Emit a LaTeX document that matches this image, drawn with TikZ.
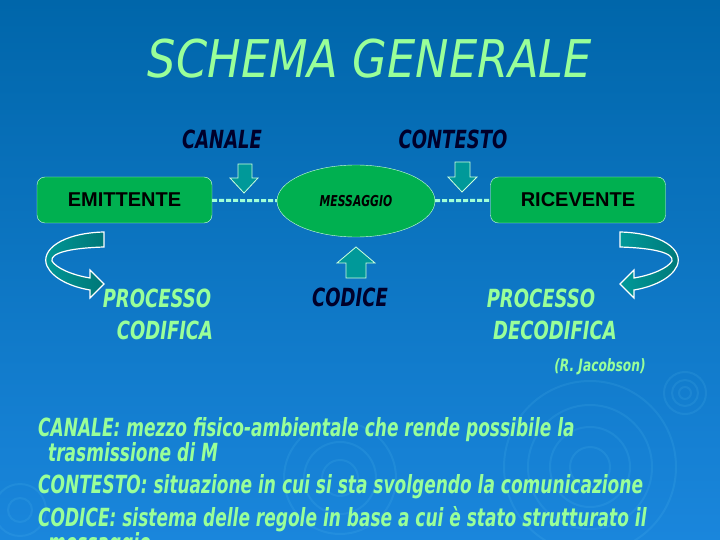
\documentclass[tikz,border=0pt]{standalone}
\usepackage{fontspec}
\usepackage{tikz}
\usetikzlibrary{shapes.geometric}
\setmainfont{Liberation Sans}
\newfontfamily\slidebold[FakeStretch=0.72]{DejaVu Sans Bold Oblique}
\newfontfamily\slidebody[FakeStretch=0.68]{DejaVu Sans Bold Oblique}
\newfontfamily\slidetitle[FakeStretch=0.86]{DejaVu Sans Oblique}

\definecolor{bgtop}{HTML}{0066AA}
\definecolor{bgmid}{HTML}{006BB4}
\definecolor{bgbot}{HTML}{1A86DC}
\definecolor{mint}{HTML}{99FF99}
\definecolor{navy}{HTML}{00002A}
\definecolor{boxgreen}{HTML}{00B050}
\definecolor{boxedge}{HTML}{CCFFDD}
\definecolor{tealfill}{HTML}{009999}
\definecolor{tealdark}{HTML}{007777}
\definecolor{dashmint}{HTML}{A0FFD8}

% U-shaped block arrow, drawn once for each side
\newcommand{\uturnarrow}{%
  \shadedraw[uturn] (104,232) .. controls (62,233) and (40,250) .. (47,266)
    .. controls (53,279) and (72,287) .. (90,290) -- (90,298) -- (104,284)
    -- (90,270) -- (90,278) .. controls (72,275) and (56,268) .. (52,261)
    .. controls (50,253) and (70,248) .. (104,247) -- cycle;}

\begin{document}
\begin{tikzpicture}[x=1pt, y=-1pt,
  title/.style={text=mint, font=\slidetitle\fontsize{52}{60}\selectfont, anchor=base},
  darklabel/.style={text=navy, font=\slidebold\fontsize{25}{30}\selectfont, anchor=base},
  greenlabel/.style={text=mint, font=\slidebold\fontsize{25}{30}\selectfont, anchor=base},
  textline/.style={text=mint, font=\slidebody\fontsize{25}{30}\selectfont, anchor=base west, inner sep=0pt},
  box/.style={draw=boxedge, fill=boxgreen, rounded corners=8pt, minimum width=175pt,
    minimum height=46pt, font=\bfseries\fontsize{20}{24}\selectfont},
  msgshape/.style={ellipse, draw=boxedge, fill=boxgreen, minimum width=158pt,
    minimum height=72pt, inner sep=0pt, font=\slidebold\fontsize{15}{18}\selectfont},
  dashline/.style={draw=dashmint, line width=3pt, dash pattern=on 5pt off 2pt},
  blockarrow/.style={draw=boxedge, fill=tealfill, line width=0.8pt},
  uturn/.style={draw=white, line width=1.2pt, left color=tealfill, right color=tealdark},
  ring/.style={draw=cyan!60!white, opacity=0.12, line width=2pt}]

% Background
\shade[top color=bgtop, middle color=bgmid, bottom color=bgbot] (0,0) rectangle (720,540);
\useasboundingbox (0,0) rectangle (720,540);

% Rings
\foreach \r in {6,13,21} \draw[ring] (685,393) circle (\r pt);
\foreach \r in {20,40,62,86} \draw[ring] (590,467) circle (\r pt);
\foreach \r in {18,36,56} \draw[ring] (340,478) circle (\r pt);
\foreach \r in {12,26} \draw[ring] (20,510) circle (\r pt);

% Title and top labels
\node[title] (title) at (370,78) {SCHEMA GENERALE};
\node[darklabel] (canale) at (222,149) {CANALE};
\node[darklabel] (contesto) at (453,149) {CONTESTO};

% Boxes
\node[box] (emit) at (124.5,200) {EMITTENTE\hspace{10pt}};
\node[box] (ricev) at (578,200) {RICEVENTE};
\node[msgshape] (msg) at (356,201) {MESSAGGIO};
\draw[dashline] (emit) -- (msg);
\draw[dashline] (msg) -- (ricev);

% Block arrows
\draw[blockarrow] (238,164) -- (252,164) -- (252,178) -- (258,178) -- (244,193)
  -- (230,178) -- (238,178) -- cycle;
\draw[blockarrow] (455,162) -- (470,162) -- (470,177) -- (477,177) -- (462,192)
  -- (448,177) -- (455,177) -- cycle;
\draw[blockarrow] (346,278) -- (366,278) -- (366,263) -- (375,263) -- (356,247)
  -- (337,263) -- (346,263) -- cycle;

% Curved arrows
\uturnarrow
\begin{scope}[shift={(724,0)}, xscale=-1]
\uturnarrow
\end{scope}

% Lower labels
\node[greenlabel] (proc1) at (157,307) {PROCESSO};
\node[greenlabel] (codif) at (165,339) {CODIFICA};
\node[darklabel] (codice) at (350,306) {CODICE};
\node[greenlabel] (proc2) at (541,307) {PROCESSO};
\node[greenlabel] (decod) at (555,339) {DECODIFICA};
\node[greenlabel, font=\slidebold\fontsize{17}{20}\selectfont] (author) at (600,371) {(R. Jacobson)};

% Definitions
\node[textline] (line1) at (38,436) {CANALE: mezzo fisico-ambientale che rende possibile la};
\node[textline] (line2) at (48,461) {trasmissione di M};
\node[textline] (line3) at (38,493) {CONTESTO: situazione in cui si sta svolgendo la comunicazione};
\node[textline] (line4) at (38,526) {CODICE: sistema delle regole in base a cui è stato strutturato il};
\node[textline] (line5) at (48,551) {messaggio};
\end{tikzpicture}
\end{document}
